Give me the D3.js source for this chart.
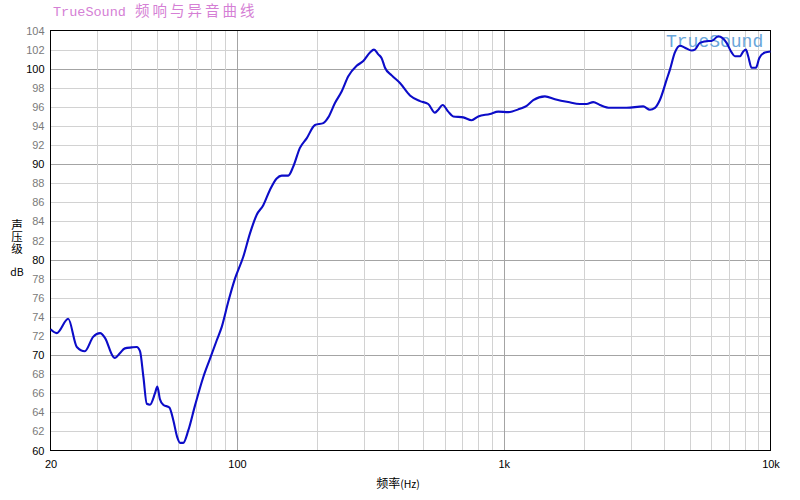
<!DOCTYPE html>
<html><head><meta charset="utf-8">
<script src="https://cdn.jsdelivr.net/npm/d3@7"></script>
<style>
html,body{margin:0;padding:0;background:#fff;}
svg{display:block;}
</style></head>
<body>
<svg id="chart" width="800" height="500"></svg>
<script>
// ---- data ----
const freqs = [20,21.1,23.3,25.1,26.9,28.9,30.7,32.0,34.4,34.9,36.4,38.0,40.3,42.1,43.3,44.6,45.9,47.2,49.3,50.3,51.4,52.9,55.8,57.7,59.7,61.2,62.9,65.7,69.6,74.8,79.2,84.0,87.7,92.8,98.3,105.6,111.9,118.6,125.5,132.9,140.9,147.1,155.7,162.6,172.2,182.5,196.1,210.7,219.9,233.0,246.8,261.4,281.0,297.5,315.2,326.3,338.6,348.6,358.8,380.2,408.3,445.2,485.4,521.2,552.4,568.2,590.2,619.4,646.7,705.3,758.1,802.6,887.9,953.8,1040,1150,1219,1290,1427,1556,1745,1930,2045,2166,2294,2502,2888,3333,3532,3688,3852,4080,4198,4382,4576,4778,5062,5208,5438,5842,6016,6368,6614,6846,7148,7354,7680,7902,8088,8250,8496,8818,9072,9528,10000];
const spl = [72.7,72.3,73.8,70.85,70.4,71.9,72.3,71.8,69.8,69.7,70.2,70.7,70.8,70.85,70.4,67.7,64.9,64.8,66.0,66.7,65.4,64.8,64.5,63.2,61.4,60.8,60.8,62.1,64.7,67.7,69.6,71.55,72.95,75.6,78.0,80.3,82.75,84.7,85.7,87.3,88.5,88.8,88.8,89.75,91.7,92.7,94.1,94.3,94.9,96.4,97.6,99.2,100.3,100.8,101.7,102.0,101.5,101.1,100.1,99.3,98.5,97.2,96.6,96.3,95.4,95.7,96.2,95.5,95.0,94.9,94.6,95.0,95.25,95.5,95.45,95.8,96.1,96.7,97.1,96.8,96.5,96.3,96.3,96.5,96.2,95.9,95.9,96.05,95.7,95.9,96.75,98.85,99.9,101.7,102.4,102.2,101.9,102.0,102.7,102.9,102.9,103.4,103.2,102.7,101.7,101.3,101.3,101.8,102.0,101.3,100.1,100.1,101.1,101.7,101.8];
const yTicks = d3.range(60, 105, 2);
const yMajor = [70, 80, 90, 100];
const xLabelTicks = [20, 100, 1000, 10000];
const xLabelText = ["20", "100", "1k", "10k"];
const xGrid = [30,40,50,60,70,80,90,100,200,300,400,500,600,700,800,900,1000,2000,3000,4000,5000,6000,7000,8000,9000];
const xMajor = [100, 1000];
const titleBrand = "TrueSound";
const titleText = "频响与异音曲线";
const watermark = "TrueSound";
const yLabel = "声压级";
const yUnit = "dB";
const xLabel = "频率";
const xUnit = "(Hz)";

// ---- layout ----
const L = 50.5, R = 770.5, T = 30.5, B = 450.5;
const svg = d3.select("#chart");
const x = d3.scaleLog().domain([20, 10000]).range([L, R]);
const y = d3.scaleLinear().domain([60, 104]).range([B, T]);

// grid
const g = svg.append("g");
g.selectAll("line.hy").data(yTicks.filter(v => v > 60 && v < 104)).enter().append("line")
  .attr("x1", L).attr("x2", R).attr("y1", d => Math.round(y(d)) + 0.5).attr("y2", d => Math.round(y(d)) + 0.5)
  .attr("stroke", d => yMajor.includes(d) ? "#a4a4a4" : "#d2d2d2").attr("stroke-width", 1);
g.selectAll("line.vx").data(xGrid).enter().append("line")
  .attr("y1", T).attr("y2", B).attr("x1", d => Math.round(x(d)) + 0.5).attr("x2", d => Math.round(x(d)) + 0.5)
  .attr("stroke", d => xMajor.includes(d) ? "#a4a4a4" : "#d2d2d2").attr("stroke-width", 1);

// frame
svg.append("rect").attr("x", L).attr("y", T).attr("width", R - L).attr("height", B - T)
  .attr("fill", "none").attr("stroke", "#000").attr("stroke-width", 1);

// watermark
svg.append("text").attr("x", 666).attr("y", 47).text(watermark)
  .attr("font-family", "'Courier New', 'Liberation Mono', monospace").attr("font-size", 18)
  .attr("fill", "#6aa6da");

// curve
const pts = freqs.map((f, i) => [f, spl[i]]);
svg.append("path").datum(pts)
  .attr("d", d3.line().x(d => x(d[0])).y(d => y(d[1])).curve(d3.curveMonotoneX))
  .attr("fill", "none").attr("stroke", "#0c0cc8").attr("stroke-width", 2.1).attr("stroke-linejoin", "round");

// axes
const yAxis = d3.axisLeft(y).tickValues(yTicks).tickSize(0).tickPadding(6).tickFormat(d3.format("d"));
const ya = svg.append("g").attr("transform", `translate(${L},0)`).call(yAxis);
ya.select(".domain").remove();
ya.selectAll("text").attr("font-family", "Arial, 'Liberation Sans', sans-serif").attr("font-size", 11)
  .attr("fill", d => (d % 10 === 0) ? "#000" : "#7a7a7a");

const xAxis = d3.axisBottom(x).tickValues(xLabelTicks).tickSize(0).tickPadding(10)
  .tickFormat((d, i) => xLabelText[i]);
const xa = svg.append("g").attr("transform", `translate(0,${B})`).call(xAxis);
xa.select(".domain").remove();
xa.selectAll("text").attr("font-family", "Arial, 'Liberation Sans', sans-serif").attr("font-size", 11).attr("fill", "#000");

// title
const tt = svg.append("text").attr("x", 53).attr("y", 16).attr("fill", "#d57fd5");
tt.append("tspan").text(titleBrand).attr("font-family", "'Courier New', 'Liberation Mono', monospace").attr("font-size", 13.5);
tt.append("tspan").text(titleText).attr("dx", 9).attr("font-family", "'Noto Sans CJK SC', sans-serif")
  .attr("font-size", 14.5).attr("letter-spacing", 3);

// y label (vertical)
svg.append("text").attr("x", 17).attr("y", 219)
  .attr("writing-mode", "vertical-rl").attr("style", "writing-mode:vertical-rl")
  .attr("font-family", "'Noto Sans CJK SC', sans-serif").attr("font-size", 11.5).attr("letter-spacing", 0.5)
  .attr("fill", "#000").text(yLabel);
svg.append("text").attr("x", 17).attr("y", 276).attr("text-anchor", "middle")
  .attr("font-family", "'Noto Sans CJK SC', sans-serif").attr("font-size", 10.5).attr("fill", "#000").text(yUnit);

// x label
const xl = svg.append("text").attr("x", 398).attr("y", 488).attr("text-anchor", "middle")
  .attr("font-family", "'Noto Sans CJK SC', sans-serif").attr("fill", "#000");
xl.append("tspan").text(xLabel).attr("font-size", 12);
xl.append("tspan").text(xUnit).attr("font-size", 10.5);
</script>
</body></html>
